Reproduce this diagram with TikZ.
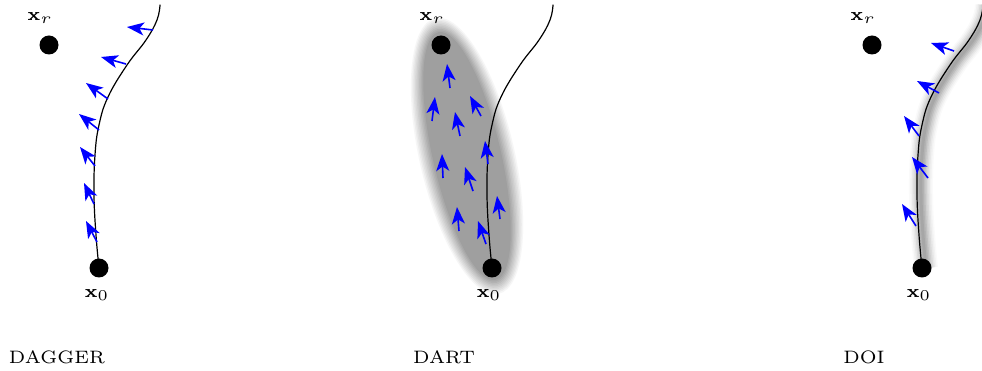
\documentclass[tikz,border=0pt]{standalone}
\usetikzlibrary{arrows.meta}
\begin{document}
\begin{tikzpicture}[x=1pt,y=-1pt,
  dot/.style={circle,fill=black,minimum size=19pt,inner sep=0pt},
  lbl/.style={font=\fontsize{6}{7}\selectfont,scale=3.0,inner sep=0pt},
  vec/.style={blue,line width=1.6pt,-{Stealth[length=17pt,width=13pt,inset=4.5pt]}},
  traj/.style={line width=1.2pt,line cap=round}]
\useasboundingbox (0,0) rectangle (982,371);
\def\trajcoords{(99,268) (96,235) (94,195) (95,155) (99,125) (108,97) (127,65) (146,40) (157,20) (160,5)}

% ---------- DART ellipse (soft edged) ----------
\foreach \i [evaluate=\i as \a using 49-1.5*\i,
             evaluate=\i as \b using 143-1.6*\i,
             evaluate=\i as \c using 7.5*\i] in {0,...,10}
  \fill[gray!\c, rotate around={13:(467,156)}] (467,156) ellipse ({\a pt} and {\b pt});

% ---------- DOI glow ----------
\begin{scope}[xshift=827pt]
\foreach \w/\c in {24/4,21/10,18/18,15/28,12/38,9/50,6/60,3/70}
  \draw[line width=\w pt, gray!\c] plot[smooth,tension=0.7] coordinates {\trajcoords};
\end{scope}

% ---------- trajectories ----------
\draw[traj] plot[smooth,tension=0.7] coordinates {\trajcoords};
\begin{scope}[xshift=393pt]
\draw[traj] plot[smooth,tension=0.7] coordinates {\trajcoords};
\end{scope}
\begin{scope}[xshift=823pt]
\draw[traj] plot[smooth,tension=0.7] coordinates {\trajcoords};
\end{scope}

% ---------- DAGGER arrows ----------
\draw[vec] (97,242) -- (86,221);
\draw[vec] (94,204) -- (84,183);
\draw[vec] (95,166) -- (80,147);
\draw[vec] (99,130) -- (79,114);
\draw[vec] (108,99) -- (86,83);
\draw[vec] (126,64) -- (101,57);
\draw[vec] (153,30) -- (127,27);

% ---------- DART arrows ----------
\draw[vec] (450,88) -- (447,64);
\draw[vec] (432,121) -- (435,97);
\draw[vec] (481,116) -- (470,96);
\draw[vec] (460,136) -- (455,112);
\draw[vec] (488,164) -- (485,141);
\draw[vec] (443,178) -- (442,154);
\draw[vec] (473,191) -- (465,167);
\draw[vec] (500,219) -- (497,196);
\draw[vec] (459,231) -- (457,207);
\draw[vec] (486,244) -- (478,221);

% ---------- DOI arrows ----------
\draw[vec] (954,51) -- (931,43);
\draw[vec] (939,93) -- (917,81);
\draw[vec] (919,136) -- (904,116);
\draw[vec] (928,178) -- (912,157);
\draw[vec] (916,226) -- (902,204);

% ---------- states ----------
\node[dot] (xr1) at (49,45) {};
\node[dot] (x01) at (99,268) {};
\node[dot] (xr2) at (441,45) {};
\node[dot] (x02) at (492,268) {};
\node[dot] (xr3) at (872,45) {};
\node[dot] (x03) at (922,268) {};

\node[lbl] (lr1) at (40,18) {$\mathbf{x}_r$};
\node[lbl] (l01) at (97,295) {$\mathbf{x}_0$};
\node[lbl] (lr2) at (432,18) {$\mathbf{x}_r$};
\node[lbl] (l02) at (489,295) {$\mathbf{x}_0$};
\node[lbl] (lr3) at (863,18) {$\mathbf{x}_r$};
\node[lbl] (l03) at (919,295) {$\mathbf{x}_0$};

\node[lbl] (t1) at (57,357) {DAGGER};
\node[lbl] (t2) at (444,357) {DART};
\node[lbl] (t3) at (864,357) {DOI};
\end{tikzpicture}
\end{document}
